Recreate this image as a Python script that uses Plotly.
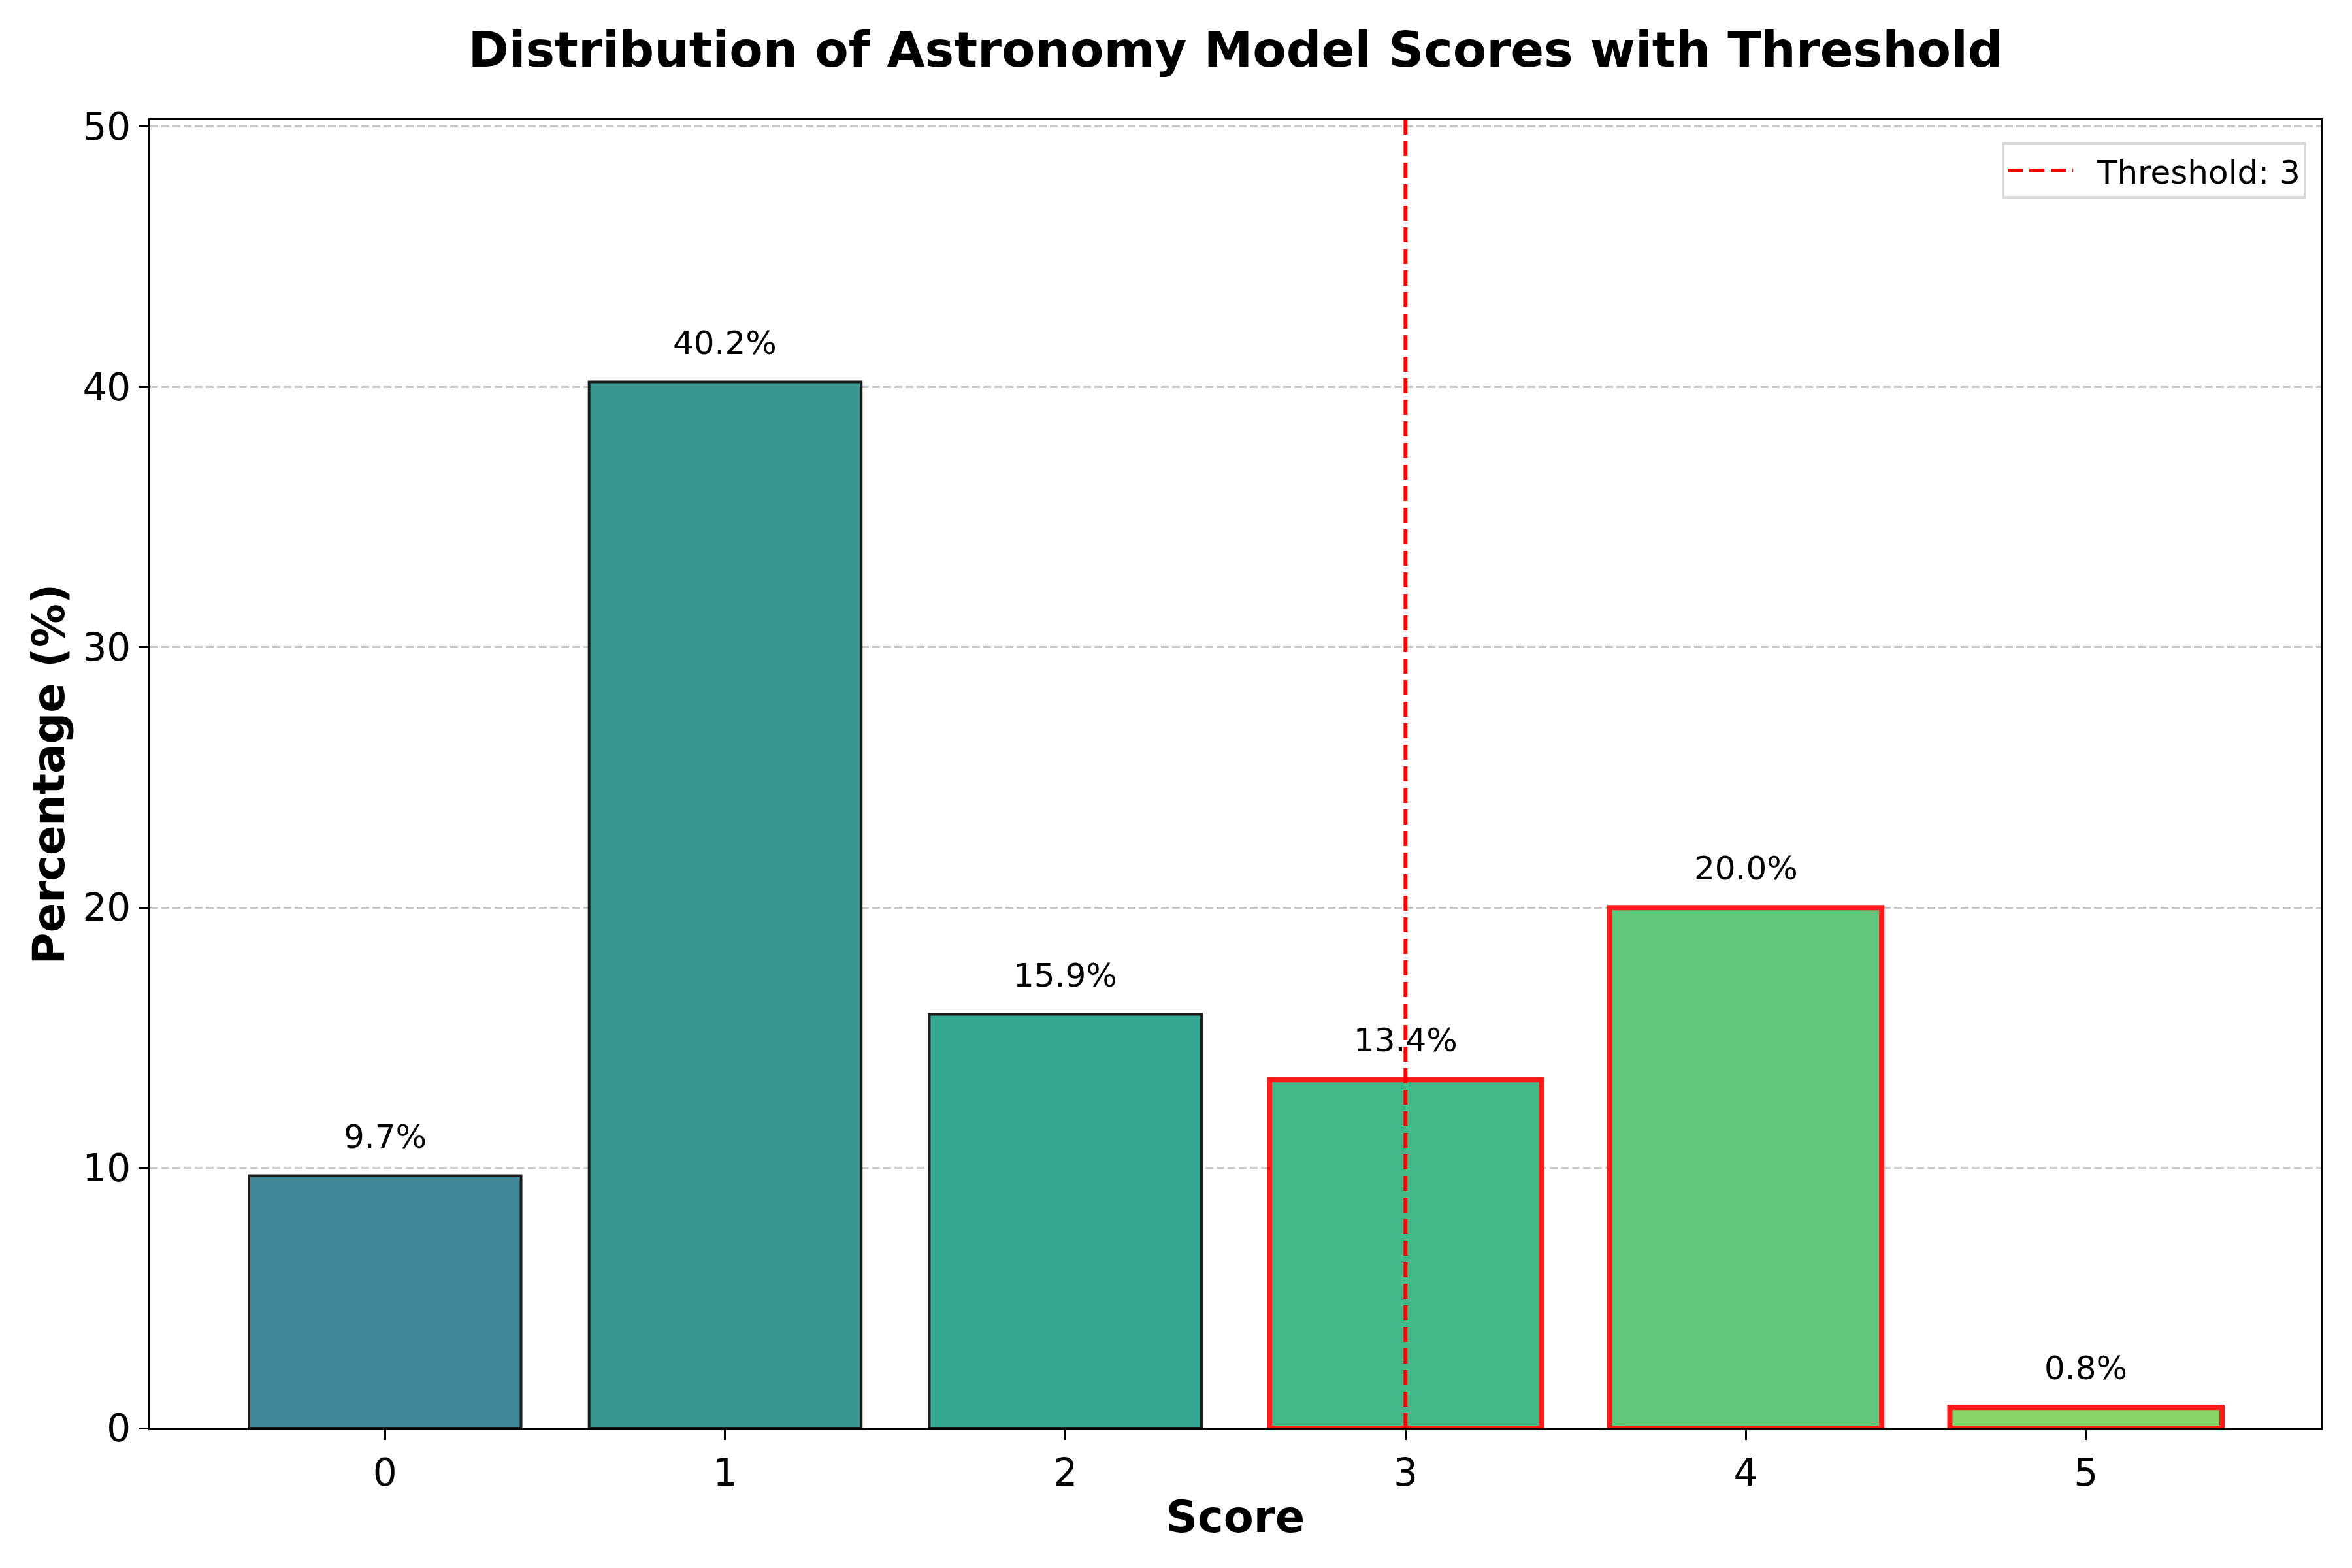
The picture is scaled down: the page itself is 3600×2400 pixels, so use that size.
import plotly.graph_objects as go

# ---- data ----
scores = [0, 1, 2, 3, 4, 5]
percentages = [9.7, 40.2, 15.9, 13.4, 20.0, 0.8]
threshold = 3
bar_colors = ["#3f8699", "#38978f", "#35a892", "#43b98a", "#61c87b", "#89d668"]
y_ticks = [0, 10, 20, 30, 40, 50]
x_ticks = [0, 1, 2, 3, 4, 5]

FONT = "DejaVu Sans"

edge_colors = ["#ff1a1a" if s >= threshold else "#1a1a1a" for s in scores]
edge_widths = [8 if s >= threshold else 4 for s in scores]

fig = go.Figure()
fig.add_trace(go.Bar(
    x=scores, y=percentages, width=0.8,
    marker=dict(color=bar_colors, line=dict(color=edge_colors, width=edge_widths)),
    showlegend=False, hoverinfo="skip",
))

# threshold line (shape with legend entry)
fig.add_shape(
    type="line", xref="x", yref="paper", x0=threshold, x1=threshold, y0=0, y1=1,
    line=dict(color="red", width=6, dash="23px,10px"),
    layer="above", showlegend=True, name="\u00a0\u00a0" + f"Threshold: {threshold}",
)

# value labels
for s, p in zip(scores, percentages):
    fig.add_annotation(
        x=s, y=p + 1.5, xref="x", yref="y", text=f"{p:.1f}%",
        showarrow=False, yanchor="middle", xanchor="center",
        font=dict(family=FONT, size=50, color="black"),
    )

fig.update_layout(
    width=3600, height=2400,
    margin=dict(l=230, r=48, t=184, b=214),
    paper_bgcolor="white", plot_bgcolor="white",
    font=dict(family=FONT, color="black"),
    title=dict(
        text="<b>Distribution of Astronomy Model Scores with Threshold</b>",
        x=0.5, xref="paper", xanchor="center",
        y=1 - 76 / 2400, yref="container", yanchor="middle",
        font=dict(family=FONT, size=75, color="black"),
    ),
    legend=dict(
        x=0.9934, xanchor="right", y=0.983, yanchor="top",
        bgcolor="white", bordercolor="#d9d9d9", borderwidth=4,
        font=dict(family=FONT, size=50, color="black"),
        itemwidth=100,
    ),
    bargap=0.2,
)

fig.update_xaxes(
    range=[-0.69, 5.69], tickmode="array", tickvals=x_ticks,
    ticktext=[str(t) for t in x_ticks],
    showgrid=False, zeroline=False,
    showline=True, linecolor="black", linewidth=3.3, mirror=True,
    ticks="outside", ticklen=15, tickwidth=3.3, tickcolor="black",
    tickfont=dict(family=FONT, size=58, color="black"),
    title=dict(text="<b>Score</b>", font=dict(family=FONT, size=67, color="black"), standoff=12),
    layer="above traces",
)
fig.update_yaxes(
    range=[0, 50.25], tickmode="array", tickvals=y_ticks,
    ticktext=[str(t) for t in y_ticks],
    showgrid=True, gridcolor="rgba(176,176,176,0.7)", gridwidth=3.3, griddash="12px,5px",
    zeroline=False,
    showline=True, linecolor="black", linewidth=3.3, mirror=True,
    ticks="outside", ticklen=15, tickwidth=3.3, tickcolor="black",
    tickfont=dict(family=FONT, size=58, color="black"),
    title=dict(text="<b>Percentage (%)</b>", font=dict(family=FONT, size=67, color="black"), standoff=6),
    layer="above traces",
)

fig.write_html(
    "out.html",
    config={"displayModeBar": False},
    post_script="document.body.style.margin='0';",
)
